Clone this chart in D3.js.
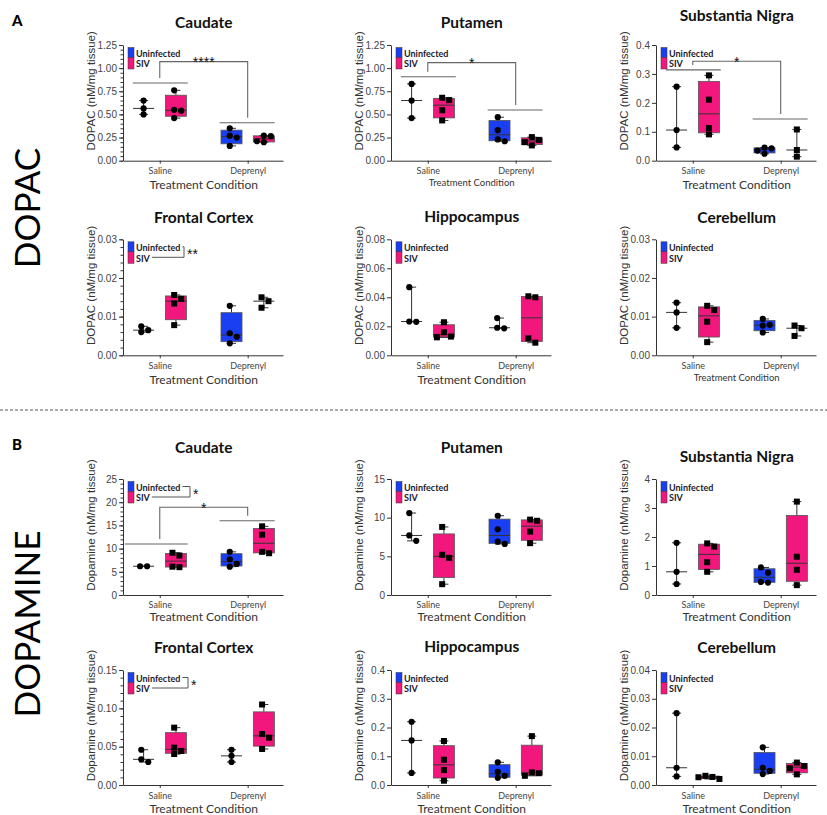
<!DOCTYPE html>
<html>
<head>
<meta charset="utf-8">
<script src="https://cdn.jsdelivr.net/npm/d3@7"></script>
<style>
  body { margin: 0; background: #fff; }
  svg { display: block; }
</style>
</head>
<body>
<svg id="chart" width="827" height="815"></svg>
<script>
// categories
var treatments = ["Saline", "Deprenyl"];
var groups = ["Uninfected", "SIV"];
var regions = ["Caudate", "Putamen", "Substantia Nigra", "Frontal Cortex", "Hippocampus", "Cerebellum"];

// DOPAC (nM/mg tissue), each: [saline uninfected, saline SIV, deprenyl uninfected, deprenyl SIV]
var dopacCaudate = [[0.65, 0.565, 0.50], [0.76, 0.55, 0.54, 0.46], [0.35, 0.27, 0.25, 0.16], [0.27, 0.265, 0.21, 0.20]];
var dopacPutamen = [[0.83, 0.65, 0.46], [0.68, 0.655, 0.545, 0.435], [0.47, 0.33, 0.23, 0.21], [0.255, 0.225, 0.20, 0.165]];
var dopacSN = [[0.256, 0.106, 0.046], [0.295, 0.211, 0.113, 0.091], [0.045, 0.043, 0.035, 0.024], [0.108, 0.037, 0.014]];
var dopacFC = [[0.0075, 0.0065, 0.006], [0.0156, 0.0146, 0.0134, 0.0078], [0.0128, 0.0057, 0.0048, 0.0031], [0.015, 0.014, 0.0123]];
var dopacHippo = [[0.047, 0.0233, 0.0231], [0.0228, 0.0159, 0.0129, 0.0124], [0.0257, 0.019, 0.0186], [0.0407, 0.040, 0.0117, 0.0087]];
var dopacCereb = [[0.0136, 0.0111, 0.0071], [0.0128, 0.0117, 0.0087, 0.0034], [0.0094, 0.0079, 0.0077, 0.0059], [0.0077, 0.007, 0.005]];

// Dopamine (nM/mg tissue)
var daCaudate = [[6.2, 6.2], [9.1, 8.5, 6.1, 6.0], [9.3, 7.7, 6.7, 6.1], [14.8, 13.0, 9.3, 9.0]];
var daPutamen = [[10.6, 7.7, 7.0], [8.8, 5.2, 4.8, 1.4], [10.25, 8.5, 6.9, 6.6], [9.75, 9.6, 8.2, 6.7]];
var daSN = [[1.80, 0.80, 0.38], [1.78, 1.67, 1.13, 0.80], [0.95, 0.77, 0.45, 0.43], [3.22, 1.32, 0.87, 0.34]];
var daFC = [[0.046, 0.0335, 0.030], [0.0748, 0.0487, 0.0443, 0.0404], [0.046, 0.038, 0.030], [0.105, 0.0665, 0.0617, 0.047]];
var daHippo = [[0.22, 0.155, 0.042], [0.153, 0.088, 0.052, 0.015], [0.079, 0.046, 0.032, 0.025], [0.17, 0.044, 0.041, 0.032]];
var daCereb = [[0.025, 0.006, 0.003], [0.0032, 0.0028, 0.0027, 0.0021], [0.0131, 0.006, 0.0049, 0.0038], [0.0078, 0.0066, 0.0058, 0.0037]];

// y axis tick labels
var dopacTicks = [[0, 0.25, 0.5, 0.75, 1.0, 1.25], [0, 0.25, 0.5, 0.75, 1.0, 1.25], [0, 0.1, 0.2, 0.3, 0.4],
                  [0, 0.01, 0.02, 0.03], [0, 0.02, 0.04, 0.06, 0.08], [0, 0.01, 0.02, 0.03]];
var dopacFormats = [".2f", ".2f", ".1f", ".2f", ".2f", ".2f"];
var daTicks = [[0, 5, 10, 15, 20, 25], [0, 5, 10, 15], [0, 1, 2, 3, 4],
               [0, 0.05, 0.10, 0.15], [0, 0.1, 0.2, 0.3, 0.4], [0, 0.01, 0.02, 0.03, 0.04]];
var daFormats = ["d", "d", "d", ".2f", ".1f", ".2f"];

// significance brackets: [saline bar, deprenyl bar, bracket top, label] (data units)
var dopacSig = [[0.84, 0.41, 1.07, "****"], [0.907, 0.547, 1.06, "*"], [0.314, 0.144, 0.344, "*"], null, null, null];
var daSig = [[11.0, 16.0, 18.9, "*"], null, null, null, null, null];
// interaction bracket next to the legend
var dopacInter = [null, null, null, "**", null, null];
var daInter = ["*", null, null, "*", null, null];

var dopacData = [dopacCaudate, dopacPutamen, dopacSN, dopacFC, dopacHippo, dopacCereb];
var daData = [daCaudate, daPutamen, daSN, daFC, daHippo, daCereb];

// layout
var colX = [123, 391, 656];
var rowTop = [45, 239.3, 479, 670];
var rowBottom = [160.7, 355.3, 595, 785];
var axisW = 160;
var titleY = [28, 28, 21, 222.5, 222, 222.5, 453, 453, 462, 653, 652, 653];
var condY = [189, 186, 189, 384, 384, 381, 621, 621, 621, 813, 813, 813];
var condSize = [12, 9.5, 12, 12, 12, 9.5, 12, 12, 12, 12, 12, 12];
var interX = [61, 61, 61, 61, 61, 61, 67, 67, 67, 65, 65, 65];
var blue = "#1a3ff2", pink = "#f2177c";
var lineCol = "#333";

var svg = d3.select("#chart");

// quartile as in (n+1)p
function quant(s, p) {
    var n = s.length;
    var pos = Math.max(1, Math.min(n, (n + 1) * p));
    var lo = Math.floor(pos), fr = pos - lo;
    if (lo >= n) return s[n - 1];
    return s[lo - 1] + fr * (s[lo] - s[lo - 1]);
}

// small beeswarm: put each point at the nearest free offset
function swarm(vals, y, spacing, minDist) {
    var pts = vals.map(v => ({ v: v, py: y(v) })).sort((a, b) => a.py - b.py);
    var placed = [];
    pts.forEach(p => {
        var tries = [0];
        for (var i = 1; i < 6; i++) tries.push(i * spacing, -i * spacing);
        for (var j = 0; j < tries.length; j++) {
            var dx = tries[j];
            var ok = placed.every(q => Math.hypot(q.dx - dx, q.py - p.py) >= minDist);
            if (ok) { p.dx = dx; break; }
        }
        placed.push(p);
    });
    var m = d3.mean(pts, d => d.dx);
    pts.forEach(p => p.dx -= m);
    return pts;
}

function drawPanel(p) {
    var row = Math.floor(p / 3), col = p % 3;
    var isDA = p >= 6, k = p % 6;
    var values = (isDA ? daData : dopacData)[k];
    var ticks = (isDA ? daTicks : dopacTicks)[k];
    var fmt = (isDA ? daFormats : dopacFormats)[k];
    var sig = (isDA ? daSig : dopacSig)[k];
    var inter = (isDA ? daInter : dopacInter)[k];
    var h = rowBottom[row] - rowTop[row];

    var g = svg.append("g").attr("transform", "translate(" + colX[col] + "," + rowTop[row] + ")");

    var y = d3.scaleLinear().domain([0, ticks[ticks.length - 1]]).range([h, 0]);
    var x = d3.scalePoint().domain(treatments).range([0, axisW]).padding(0.41).align(0.51);
    var xg = d3.scaleBand().domain(groups).range([-38, 38]).padding(0.35);
    var bw = xg.bandwidth();

    // minor ticks on first column
    if (col == 0) {
        var step = ticks[1] - ticks[0];
        var minor = d3.range(0, ticks[ticks.length - 1] + step / 10, step / 5);
        g.append("g")
            .call(d3.axisLeft(y).tickValues(minor).tickSize(2.5).tickFormat(""))
            .call(a => a.select(".domain").remove())
            .selectAll("line").attr("stroke", lineCol);
    }

    // y axis
    var ya = g.append("g")
        .call(d3.axisLeft(y).tickValues(ticks).tickFormat(d3.format(fmt)).tickSize(4).tickPadding(2).tickSizeOuter(0));
    ya.selectAll("text").attr("font-family", "Liberation Sans, Arial, sans-serif").attr("font-size", 10).attr("fill", "#444");
    ya.selectAll("line,path").attr("stroke", lineCol);

    // x axis
    var xa = g.append("g").attr("transform", "translate(0," + h + ")")
        .call(d3.axisBottom(x).tickSize(3).tickSizeOuter(0).tickPadding(3));
    xa.selectAll("text").attr("font-family", "Lato, sans-serif").attr("font-size", 9).attr("fill", "#444")
        .attr("dy", null).attr("y", row == 2 ? 13 : 13.5);
    xa.selectAll("line,path").attr("stroke", lineCol);

    // y label
    g.append("text")
        .attr("transform", "translate(-28," + (h / 2 - 12) + ") rotate(-90)")
        .attr("text-anchor", "middle")
        .attr("font-family", "Liberation Sans, Arial, sans-serif")
        .attr("font-size", 11.5).attr("fill", "#333")
        .text((isDA ? "Dopamine" : "DOPAC") + " (nM/mg tissue)");

    var mid = (x("Saline") + x("Deprenyl")) / 2;
    // title
    g.append("text")
        .attr("x", mid).attr("y", titleY[p] - rowTop[row])
        .attr("text-anchor", "middle")
        .attr("font-family", "Lato, sans-serif").attr("font-weight", "bold")
        .attr("font-size", 15.5).attr("fill", "#111")
        .text(regions[k]);

    // x label
    g.append("text")
        .attr("x", mid).attr("y", condY[p] - rowTop[row])
        .attr("text-anchor", "middle")
        .attr("font-family", "Lato, sans-serif")
        .attr("font-size", condSize[p]).attr("fill", "#333")
        .text("Treatment Condition");

    // boxes
    values.forEach(function(vals, gi) {
        var t = treatments[Math.floor(gi / 2)], grp = groups[gi % 2];
        var cx = x(t) + xg(grp) + bw / 2;
        var s = vals.slice().sort(d3.ascending);
        var n = s.length;
        var med = quant(s, 0.5), lo = s[0], hi = s[n - 1];
        var bg = g.append("g");
        var capW = 9;
        if (n >= 4) {
            var q1 = quant(s, 0.25), q3 = quant(s, 0.75);
            bg.append("line").attr("x1", cx).attr("x2", cx).attr("y1", y(hi)).attr("y2", y(q3));
            bg.append("line").attr("x1", cx).attr("x2", cx).attr("y1", y(q1)).attr("y2", y(lo));
            bg.append("rect").attr("x", cx - bw / 2).attr("width", bw)
                .attr("y", y(q3)).attr("height", Math.max(0.5, y(q1) - y(q3)))
                .attr("fill", grp == "SIV" ? pink : blue).attr("stroke", "#555").attr("stroke-width", 0.8);
        } else {
            bg.append("line").attr("x1", cx).attr("x2", cx).attr("y1", y(hi)).attr("y2", y(lo));
        }
        bg.append("line").attr("x1", cx - capW / 2).attr("x2", cx + capW / 2).attr("y1", y(hi)).attr("y2", y(hi));
        bg.append("line").attr("x1", cx - capW / 2).attr("x2", cx + capW / 2).attr("y1", y(lo)).attr("y2", y(lo));
        bg.append("line").attr("x1", cx - bw / 2).attr("x2", cx + bw / 2).attr("y1", y(med)).attr("y2", y(med));
        bg.selectAll("line").attr("stroke", lineCol).attr("stroke-width", 1);

        // points
        var pts = swarm(vals, y, 7, 5.8);
        var circle = grp == "Uninfected" || p == 0;
        pts.forEach(function(pt) {
            if (circle) {
                g.append("circle").attr("cx", cx + pt.dx).attr("cy", pt.py).attr("r", 3.1).attr("fill", "#000");
            } else {
                g.append("rect").attr("x", cx + pt.dx - 3).attr("y", pt.py - 3)
                    .attr("width", 6).attr("height", 6).attr("fill", "#000");
            }
        });
    });

    // legend
    var lg = g.append("g").attr("transform", "translate(5,2.5)");
    lg.append("rect").attr("width", 6).attr("height", 10).attr("fill", blue).attr("stroke", "#333").attr("stroke-width", 0.5);
    lg.append("rect").attr("y", 10).attr("width", 6).attr("height", 11.5).attr("fill", pink).attr("stroke", "#333").attr("stroke-width", 0.5);
    var t1 = lg.append("text").attr("x", 8).attr("y", 9).text("Uninfected");
    var t2 = lg.append("text").attr("x", 8).attr("y", 19.8).text("SIV");
    lg.selectAll("text").attr("font-family", "Lato, sans-serif").attr("font-weight", "bold")
        .attr("font-size", 9).attr("fill", "#1a1a2e");

    if (inter) {
        var bx = interX[p] - 5;
        var e1 = 8 + t1.node().getComputedTextLength() + 2;
        var e2 = 8 + t2.node().getComputedTextLength() + 2;
        lg.append("path")
            .attr("d", "M" + e1 + ",5H" + bx + "V15.5H" + e2)
            .attr("fill", "none").attr("stroke", "#555").attr("stroke-width", 1);
        lg.append("text").attr("x", bx + 3).attr("y", 17)
            .attr("font-family", "Liberation Sans, Arial, sans-serif").attr("font-size", 14)
            .attr("fill", "#111").text(inter);
    }

    if (sig) {
        var xs = x("Saline"), xd = x("Deprenyl");
        var leftPad = p == 6 ? 35 : 27;
        var sg = g.append("g").attr("stroke", "#666").attr("stroke-width", 1.1).attr("fill", "none");
        sg.append("line").attr("x1", xs - leftPad).attr("x2", xs + 28).attr("y1", y(sig[0])).attr("y2", y(sig[0]));
        sg.append("line").attr("x1", xd - 28).attr("x2", xd + 27).attr("y1", y(sig[1])).attr("y2", y(sig[1]));
        sg.append("path").attr("d", "M" + xs + "," + (y(sig[0]) - 5) + "V" + y(sig[2]) + "H" + xd + "V" + (y(sig[1]) - 5));
        g.append("text").attr("x", (xs + xd) / 2).attr("y", y(sig[2]) + 5.5)
            .attr("text-anchor", "middle")
            .attr("font-family", "Liberation Sans, Arial, sans-serif").attr("font-size", 14)
            .attr("fill", "#111").text(sig[3]);
    }
}

for (var p = 0; p < 12; p++) drawPanel(p);

// section separator
svg.append("line").attr("x1", 0).attr("x2", 827).attr("y1", 410).attr("y2", 410)
    .attr("stroke", "#555").attr("stroke-width", 1).attr("stroke-dasharray", "3,2");

// section letters
svg.append("text").attr("class", "sec").attr("x", 12).attr("y", 26).text("A");
svg.append("text").attr("class", "sec").attr("x", 12).attr("y", 450).text("B");
svg.selectAll("text.sec")
    .attr("font-family", "Lato, sans-serif").attr("font-weight", "900").attr("font-size", 15).attr("fill", "#000");

// analyte names down the left side
svg.append("text").attr("class", "analyte").attr("transform", "translate(40,208) rotate(-90)").text("DOPAC");
svg.append("text").attr("class", "analyte").attr("transform", "translate(40,624) rotate(-90)").text("DOPAMINE");
svg.selectAll("text.analyte")
    .attr("text-anchor", "middle").attr("font-family", "Lato, sans-serif")
    .attr("font-size", 35).attr("fill", "#000");
</script>
</body>
</html>
